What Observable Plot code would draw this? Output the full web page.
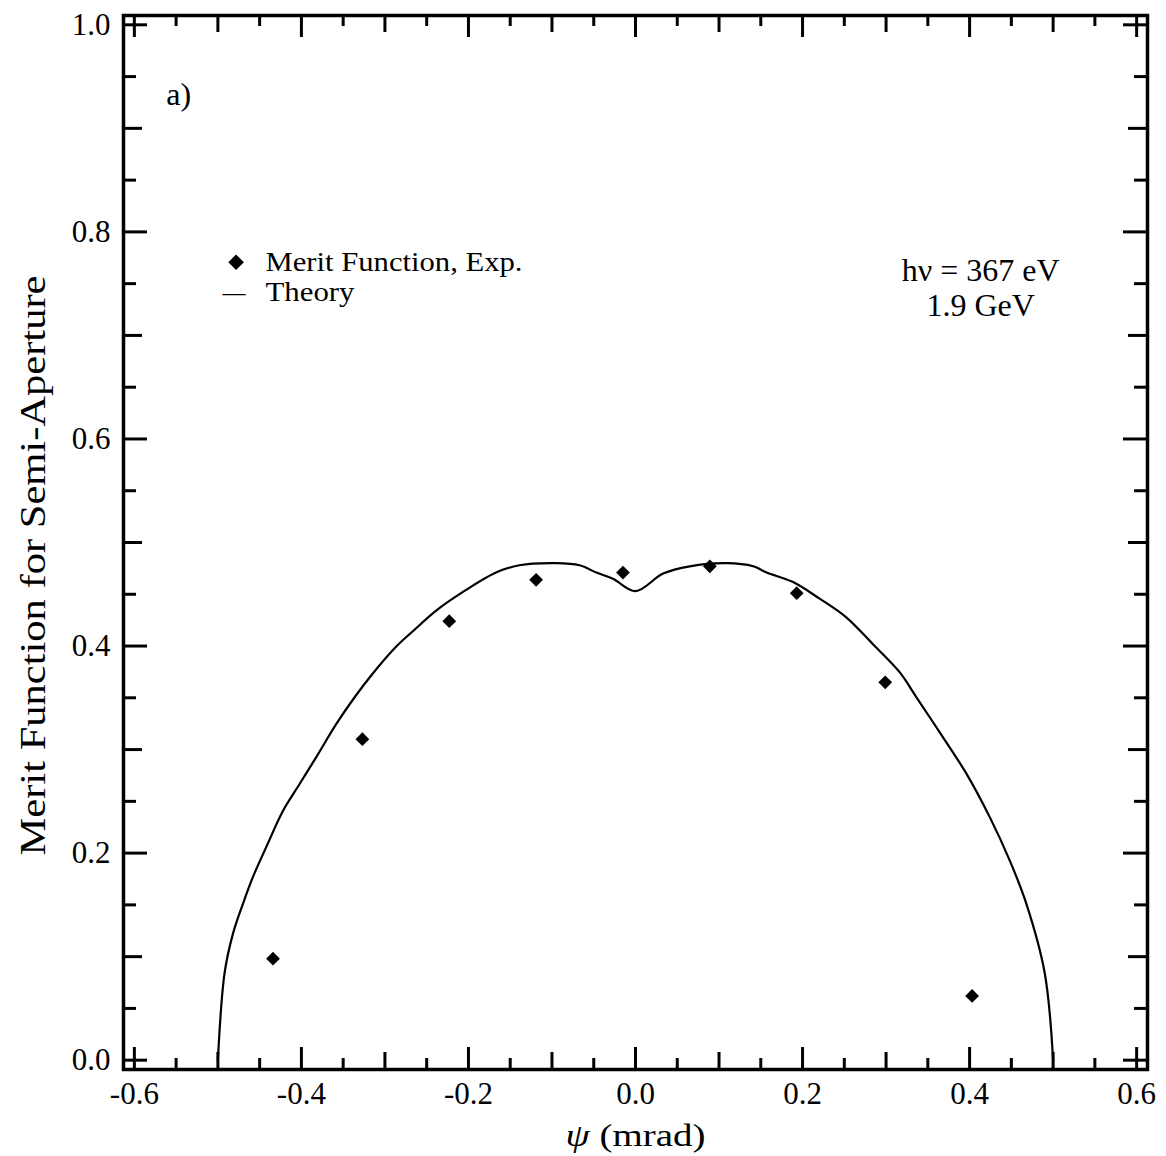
<!DOCTYPE html>
<html><head><meta charset="utf-8">
<script src="https://cdn.jsdelivr.net/npm/d3@7"></script>
<script src="https://cdn.jsdelivr.net/npm/@observablehq/plot@0.6"></script>
<style>
html,body{margin:0;padding:0;background:#fff;}
#chart svg{display:block;}
</style>
</head><body><div id="chart"></div>
<script>
// Experimental merit function (diamonds)
const expPsi   = [-0.434, -0.327, -0.223, -0.119, -0.015, 0.089, 0.193, 0.299, 0.403];
const expMerit = [0.098, 0.310, 0.424, 0.464, 0.471, 0.477, 0.451, 0.365, 0.062];

// Theory curve
const theoryPsi = [-0.500, -0.492, -0.482, -0.470, -0.458, -0.442, -0.422, -0.402, -0.382, -0.358,
  -0.335, -0.315, -0.287, -0.267, -0.239, -0.207, -0.167, -0.139, -0.095, -0.067, -0.047, -0.027,
  0.000, 0.033, 0.065, 0.109, 0.141, 0.157, 0.188, 0.220, 0.252, 0.284, 0.316, 0.336, 0.368,
  0.396, 0.424, 0.448, 0.468, 0.490, 0.500];
const theoryMerit = [0.000, 0.084, 0.122, 0.151, 0.177, 0.206, 0.241, 0.267, 0.293, 0.325,
  0.352, 0.373, 0.399, 0.414, 0.434, 0.452, 0.471, 0.478, 0.480, 0.478, 0.471, 0.465,
  0.453, 0.470, 0.477, 0.480, 0.477, 0.471, 0.462, 0.446, 0.428, 0.402, 0.375, 0.351, 0.312,
  0.277, 0.235, 0.193, 0.151, 0.084, 0.000];

// Tick labels
const xTickLabels = [-0.6, -0.4, -0.2, 0.0, 0.2, 0.4, 0.6];
const yTickLabels = [0.0, 0.2, 0.4, 0.6, 0.8, 1.0];

// Annotations
const legendText = ["Merit Function, Exp.", "Theory"];
const legendWidth = [257, 89];
const legendX = [-0.443, -0.443];
const legendY = [0.7703, 0.7413];
const legendMarkX = [-0.4782];
const legendMarkY = [0.7706];
const legendDash = ["—"];
const legendDashX = [-0.4946];
const legendDashY = [0.7413];
const panelLabel = ["a)"];
const panelX = [-0.5617];
const panelY = [0.9324];
const energyText = ["hν = 367 eV\n1.9 GeV"];
const energyX = [0.4132];
const energyY = [0.7461];

const FONT = "'Liberation Serif', 'Times New Roman', serif";

const expData = expPsi.map((x, i) => ({x, y: expMerit[i]}));
const theoryData = theoryPsi.map((x, i) => ({x, y: theoryMerit[i]}));

const W = 1166, H = 1156;
const mL = 123, mR = 19, mT = 15, mB = 87;
const innerW = W - mL - mR, innerH = H - mT - mB;

// minor/medium/major tick positions (every 0.05)
const xAll = d3.range(-12, 13).map(i => i / 20);
const yAll = d3.range(0, 21).map(i => i / 20);
function cls(v) { const i = Math.round(v * 20); return i % 4 === 0 ? 0 : (i % 2 === 0 ? 1 : 2); }
const xLen = [22, 17, 11];
const yLen = [24, 19, 13];

const tickMarks = [];
for (let c = 0; c < 3; c++) {
  const xs = xAll.filter(v => cls(v) === c);
  const ys = yAll.filter(v => cls(v) === c);
  tickMarks.push(Plot.tickX(xs, {x: d => d, insetTop: innerH - xLen[c], stroke: "black", strokeWidth: 3}));
  tickMarks.push(Plot.tickX(xs, {x: d => d, insetBottom: innerH - xLen[c], stroke: "black", strokeWidth: 3}));
  tickMarks.push(Plot.tickY(ys, {y: d => d, insetRight: innerW - yLen[c], stroke: "black", strokeWidth: 3}));
  tickMarks.push(Plot.tickY(ys, {y: d => d, insetLeft: innerW - yLen[c], stroke: "black", strokeWidth: 3}));
}

const chart = Plot.plot({
  width: W, height: H,
  marginLeft: mL, marginRight: mR, marginTop: mT, marginBottom: mB,
  style: {fontFamily: FONT, fontSize: "31px", background: "#fff", color: "black"},
  x: {domain: [-0.613, 0.613], label: null},
  y: {domain: [-0.009, 1.009], label: null},
  marks: [
    Plot.axisX(xTickLabels, {tickSize: 0, tickPadding: 12, tickFormat: d => d.toFixed(1), fontSize: 31, fontFamily: FONT, fill: "black"}),
    Plot.axisY(yTickLabels, {tickSize: 0, tickPadding: 13, tickFormat: d => d.toFixed(1), fontSize: 31, fontFamily: FONT, fill: "black"}),
    ...tickMarks,
    Plot.line(theoryData, {x: "x", y: "y", stroke: "black", strokeWidth: 2.2, curve: "catmull-rom"}),
    Plot.dot(expData, {x: "x", y: "y", symbol: "diamond2", r: 6.2, fill: "black", stroke: "none"}),
    Plot.dot(legendMarkX, {x: d => d, y: (d, i) => legendMarkY[i], symbol: "diamond2", r: 7, fill: "black", stroke: "none"}),
    Plot.text(legendText, {x: (d, i) => legendX[i], y: (d, i) => legendY[i], text: d => d, textAnchor: "start", lineAnchor: "middle", fontSize: 27, fontFamily: FONT, fill: "black"}),
    Plot.text(legendDash, {x: (d, i) => legendDashX[i], y: (d, i) => legendDashY[i], text: d => d, textAnchor: "start", lineAnchor: "middle", fontSize: 23, fontFamily: FONT, fill: "black"}),
    Plot.text(panelLabel, {x: (d, i) => panelX[i], y: (d, i) => panelY[i], text: d => d, textAnchor: "start", lineAnchor: "middle", fontSize: 32, fontFamily: FONT, fill: "black"}),
    Plot.text(energyText, {x: (d, i) => energyX[i], y: (d, i) => energyY[i], text: d => d, textAnchor: "middle", lineAnchor: "middle", lineHeight: 1.08, fontSize: 32, fontFamily: FONT, fill: "black"}),
    Plot.text(["ψ (mrad)"], {frameAnchor: "bottom", text: d => d, dy: 66, lineAnchor: "middle", fontSize: 32, fontFamily: FONT, fill: "black"}),
    Plot.text(["Merit Function for Semi-Aperture"], {frameAnchor: "left", text: d => d, rotate: -90, dx: -90, dy: 23, lineAnchor: "middle", textAnchor: "middle", fontSize: 36, fontFamily: FONT, fill: "black"}),
    Plot.frame({stroke: "black", strokeWidth: 3.5})
  ]
});

const svg = d3.select(chart);
// italic psi in the x-axis title, widened to the reference's span
svg.selectAll("text").filter(function() { return this.textContent === "ψ (mrad)"; })
  .each(function() {
    const t = d3.select(this);
    t.text(null);
    t.append("tspan").attr("font-style", "italic").text("ψ");
    t.append("tspan").text(" (mrad)");
    t.attr("textLength", 140).attr("lengthAdjust", "spacingAndGlyphs");
  });
// y-axis title stretched along its length like the reference
svg.selectAll("text").filter(function() { return this.textContent === "Merit Function for Semi-Aperture"; })
  .attr("textLength", 580).attr("lengthAdjust", "spacingAndGlyphs");
// legend entries widened to the reference's spans
legendText.forEach((s, i) => {
  svg.selectAll("text").filter(function() { return this.textContent === s; })
    .attr("textLength", legendWidth[i]).attr("lengthAdjust", "spacingAndGlyphs");
});

document.getElementById("chart").appendChild(chart);
</script>
</body></html>
